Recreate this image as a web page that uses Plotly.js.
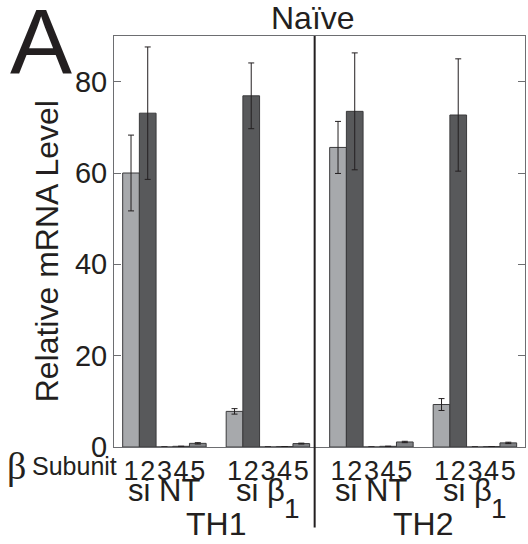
<!DOCTYPE html>
<html>
<head>
<meta charset="utf-8">
<script src="https://cdn.plot.ly/plotly-3.0.1.min.js"></script>
<style>
  html, body { margin: 0; padding: 0; background: #ffffff; }
  #chart { width: 528px; height: 544px; }
</style>
</head>
<body>
<div id="chart"></div>
<script>
// ---- Data ----
const groups = ["TH1 si NT", "TH1 si β1", "TH2 si NT", "TH2 si β1"];
const cellTypes = ["TH1", "TH2"];
const treatments = ["si NT", "si β", "si NT", "si β"];
const subunitLabels = ["1", "2", "3", "4", "5"];

// values per beta subunit, across the 4 groups
const subunit1 = [60.0, 7.8, 65.6, 9.3];
const subunit2 = [73.1, 76.9, 73.5, 72.7];
const subunit3 = [0.0, 0.0, 0.0, 0.0];
const subunit4 = [0.15, 0.1, 0.15, 0.1];
const subunit5 = [0.8, 0.75, 1.1, 0.9];

const err1 = [8.3, 0.6, 5.7, 1.3];
const err2 = [14.5, 7.2, 12.8, 12.3];
const err3 = [0, 0, 0, 0];
const err4 = [0, 0, 0, 0];
const err5 = [0.15, 0.1, 0.15, 0.15];

const yTicks = [0, 20, 40, 60, 80];

// ---- Layout helpers ----
const groupStep = 6.2;
const groupX = groups.map((g, i) => i * groupStep);
const values = [subunit1, subunit2, subunit3, subunit4, subunit5];
const errors = [err1, err2, err3, err4, err5];
const lightFill = "#a7a9ac";
const darkFill = "#58595b";
const fills = [lightFill, darkFill, lightFill, darkFill, "#808285"];
const ink = "#231f20";
const FONT = "Liberation Sans, Arial, sans-serif";

const traces = values.map((vals, b) => ({
  type: "bar",
  x: groupX.map(gx => gx + b + 1),
  y: vals,
  width: 1,
  marker: { color: fills[b], line: { color: "#3a3a3c", width: 1 } },
  error_y: { type: "data", array: errors[b], visible: true, color: ink, thickness: 1, width: 3 },
  hoverinfo: "skip",
  showlegend: false
}));

const tickVals = [];
const tickText = [];
groupX.forEach(gx => {
  subunitLabels.forEach((s, b) => { tickVals.push(gx + b + 1); tickText.push(s); });
});

const annotations = [];
// Panel letter
annotations.push({ text: "A", xref: "paper", yref: "paper", x: -0.178, y: 0.985,
  xanchor: "center", yanchor: "middle", showarrow: false,
  font: { family: FONT, size: 93, color: ink } });
// Title
annotations.push({ text: "Naïve", xref: "x", yref: "paper", x: 12 - 0.12, y: 1.045,
  xanchor: "center", yanchor: "middle", showarrow: false,
  font: { family: FONT, size: 32, color: ink } });
// Y title
annotations.push({ text: "Relative mRNA Level", xref: "paper", yref: "paper", x: -0.163, y: 0.476,
  xanchor: "center", yanchor: "middle", textangle: -90, showarrow: false,
  font: { family: FONT, size: 32, color: ink } });
// beta Subunit
annotations.push({ text: "β", xref: "paper", yref: "paper", x: -0.238, y: -0.047,
  xanchor: "center", yanchor: "middle", showarrow: false,
  font: { family: "Liberation Serif, serif", size: 38, color: ink } });
annotations.push({ text: "Subunit", xref: "paper", yref: "paper", x: -0.096, y: -0.047,
  xanchor: "center", yanchor: "middle", showarrow: false,
  font: { family: FONT, size: 25, color: ink } });
// treatment labels
treatments.forEach((t, i) => {
  const cx = groupX[i] + 3;
  if (t === "si NT") {
    annotations.push({ text: t, xref: "x", yref: "paper", x: cx, y: -0.107,
      xanchor: "center", yanchor: "middle", showarrow: false,
      font: { family: FONT, size: 31, color: ink } });
  } else {
    annotations.push({ text: t, xref: "x", yref: "paper", x: cx, xshift: -7, y: -0.107,
      xanchor: "center", yanchor: "middle", showarrow: false,
      font: { family: FONT, size: 31, color: ink } });
    annotations.push({ text: "1", xref: "x", yref: "paper", x: cx, xshift: 24, y: -0.150,
      xanchor: "center", yanchor: "middle", showarrow: false,
      font: { family: FONT, size: 28, color: ink } });
  }
});
// cell type labels
cellTypes.forEach((c, k) => {
  const cx = (groupX[2 * k] + groupX[2 * k + 1]) / 2 + 3;
  annotations.push({ text: c, xref: "x", yref: "paper", x: cx, y: -0.188,
    xanchor: "center", yanchor: "middle", showarrow: false,
    font: { family: FONT, size: 32, color: ink } });
});

const layout = {
  width: 528, height: 544,
  margin: { l: 114, r: 3, t: 36, b: 97 },
  paper_bgcolor: "#ffffff", plot_bgcolor: "#ffffff",
  barmode: "overlay",
  font: { family: FONT, color: ink },
  xaxis: {
    range: [-0.02, 24.6],
    tickvals: tickVals, ticktext: tickText, tickangle: 0,
    ticks: "", showgrid: false, zeroline: false,
    showline: true, mirror: true, linecolor: "#6d6e71", linewidth: 1,
    tickfont: { family: FONT, size: 27, color: ink }
  },
  yaxis: {
    range: [0, 90],
    tickvals: yTicks,
    ticks: "inside", ticklen: 7, tickcolor: "#6d6e71", tickwidth: 1,
    showgrid: false, zeroline: false,
    showline: true, mirror: "ticks", linecolor: "#6d6e71", linewidth: 1,
    tickfont: { family: FONT, size: 29, color: ink }
  },
  shapes: [{
    type: "line", xref: "x", yref: "paper", x0: 12, x1: 12, y0: 1, y1: -0.196,
    line: { color: ink, width: 2 }
  }],
  annotations: annotations
};

Plotly.newPlot("chart", traces, layout, { staticPlot: true, displayModeBar: false });
</script>
</body>
</html>
